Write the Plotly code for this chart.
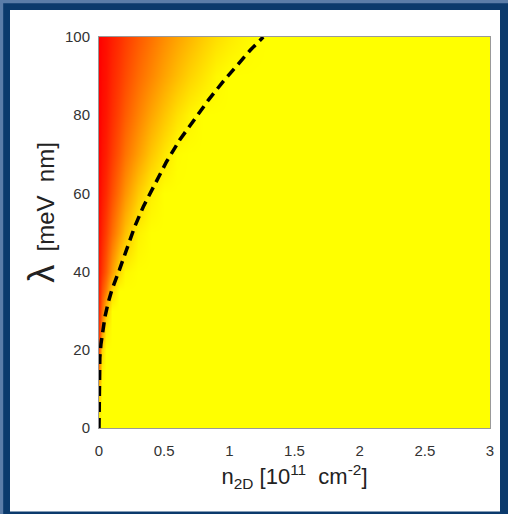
import plotly.graph_objects as go

# heatmap sample grid: 0 = red, 1 = yellow
n_grid = [0, 0.025, 0.05, 0.1, 0.15, 0.2, 0.3, 0.4, 0.5, 0.6, 0.7, 0.8, 0.9, 1.0, 1.1, 1.2, 1.3, 3.0]
lam_grid = [0, 10, 15, 20, 25, 30, 35, 40, 50, 60, 70, 80, 90, 100]
z_rows = [
    [1.0, 1, 1, 1, 1, 1, 1, 1, 1, 1, 1, 1, 1, 1, 1, 1, 1, 1],
    [0.75, 1, 1, 1, 1, 1, 1, 1, 1, 1, 1, 1, 1, 1, 1, 1, 1, 1],
    [0.5, 0.95, 1, 1, 1, 1, 1, 1, 1, 1, 1, 1, 1, 1, 1, 1, 1, 1],
    [0.32, 0.85, 1, 1, 1, 1, 1, 1, 1, 1, 1, 1, 1, 1, 1, 1, 1, 1],
    [0.22, 0.6, 0.92, 1, 1, 1, 1, 1, 1, 1, 1, 1, 1, 1, 1, 1, 1, 1],
    [0.16, 0.45, 0.75, 1, 1, 1, 1, 1, 1, 1, 1, 1, 1, 1, 1, 1, 1, 1],
    [0.13, 0.32, 0.5, 0.85, 1, 1, 1, 1, 1, 1, 1, 1, 1, 1, 1, 1, 1, 1],
    [0.1, 0.22, 0.36, 0.62, 0.85, 0.97, 1, 1, 1, 1, 1, 1, 1, 1, 1, 1, 1, 1],
    [0.06, 0.15, 0.25, 0.43, 0.6, 0.75, 0.95, 1, 1, 1, 1, 1, 1, 1, 1, 1, 1, 1],
    [0.03, 0.1, 0.17, 0.31, 0.45, 0.58, 0.79, 0.94, 1, 1, 1, 1, 1, 1, 1, 1, 1, 1],
    [0.01, 0.07, 0.12, 0.23, 0.34, 0.45, 0.62, 0.78, 0.9, 0.99, 1, 1, 1, 1, 1, 1, 1, 1],
    [0.0, 0.05, 0.09, 0.18, 0.27, 0.36, 0.51, 0.65, 0.77, 0.88, 0.96, 1, 1, 1, 1, 1, 1, 1],
    [0.0, 0.04, 0.07, 0.15, 0.22, 0.29, 0.42, 0.53, 0.64, 0.74, 0.83, 0.9, 0.97, 1, 1, 1, 1, 1],
    [0.0, 0.03, 0.06, 0.12, 0.18, 0.24, 0.35, 0.45, 0.55, 0.64, 0.72, 0.8, 0.87, 0.92, 0.96, 0.99, 1, 1],
]

# dashed boundary curve
curve_n = [0.0, 0.0, 0.001, 0.006, 0.015, 0.027, 0.046, 0.07, 0.1, 0.156, 0.212, 0.274, 0.340,
           0.416, 0.518, 0.62, 0.727, 0.842, 0.962, 1.075, 1.16, 1.26]
curve_lam = [0, 10, 14, 18, 21.5, 24.5, 28.5, 32, 35.5, 40.4, 46, 51.5, 56.6, 61.7, 68.1, 73.7,
             78.8, 84, 89, 93.3, 96.6, 100]

x_ticks = [0, 0.5, 1, 1.5, 2, 2.5, 3]
x_ticklabels = ["0", "0.5", "1", "1.5", "2", "2.5", "3"]
y_ticks = [0, 20, 40, 60, 80, 100]
y_ticklabels = ["0", "20", "40", "60", "80", "100"]

fig = go.Figure()
fig.add_trace(go.Heatmap(
    x=n_grid, y=lam_grid, z=z_rows, zmin=0, zmax=1, zsmooth="best",
    colorscale=[[0, "rgb(255,0,0)"], [1, "rgb(255,255,0)"]],
    showscale=False, hoverinfo="skip",
))
fig.add_trace(go.Scatter(
    x=curve_n, y=curve_lam, mode="lines",
    line=dict(color="black", width=3.5, dash="10px,6px"),
    hoverinfo="skip", showlegend=False,
))

W, H = 508, 514
L, R, T, B = 99, 18, 37, 86
pw, ph = W - L - R, H - T - B

def px(x):
    return (x - L) / pw

def py(y):
    return (H - B - y) / ph

shapes = [
    dict(type="rect", xref="paper", yref="paper", x0=px(0), x1=px(3.2), y0=py(0), y1=py(H),
         fillcolor="#5b7da8", line_width=0, layer="below"),
    dict(type="rect", xref="paper", yref="paper", x0=px(0), x1=px(W), y0=py(0), y1=py(3.2),
         fillcolor="#5b7da8", line_width=0, layer="below"),
    dict(type="rect", xref="paper", yref="paper", x0=px(10), x1=px(500), y0=py(10), y1=py(511.5),
         fillcolor="white", line_width=0, layer="below"),
]

fig.update_layout(
    width=W, height=H,
    margin=dict(l=L, r=R, t=T, b=B, pad=0),
    paper_bgcolor="#0b3a6c", plot_bgcolor="white",
    font=dict(family="Liberation Sans, Arial, sans-serif", color="#333333", size=15),
    shapes=shapes, showlegend=False,
    xaxis=dict(range=[0, 3], tickvals=x_ticks, ticktext=x_ticklabels, showgrid=False,
               zeroline=False, showline=True, mirror=True, linecolor="#999999", linewidth=1,
               ticks="", ticklabelstandoff=9, tickfont=dict(size=15, color="#333333"),
               title=dict(text="n<sub>2D</sub> [10<sup>11</sup>&nbsp; cm<sup>-2</sup>]",
                          font=dict(size=22, color="#222222"), standoff=10)),
    yaxis=dict(range=[0, 100], tickvals=y_ticks, ticktext=y_ticklabels, showgrid=False,
               zeroline=False, showline=True, mirror=True, linecolor="#999999", linewidth=1,
               ticks="", ticklabelstandoff=5, tickfont=dict(size=15, color="#333333"),
               title=dict(text="&nbsp;&nbsp;&nbsp;&nbsp;&nbsp;&nbsp;<span style='font-size:36px'>λ</span>&nbsp; [meV&nbsp; nm]",
                          font=dict(size=24, color="#222222"), standoff=3)),
)

fig.write_html("out.html", config={"displayModeBar": False},
               post_script="document.body.style.margin='0';document.body.style.overflow='hidden';")
